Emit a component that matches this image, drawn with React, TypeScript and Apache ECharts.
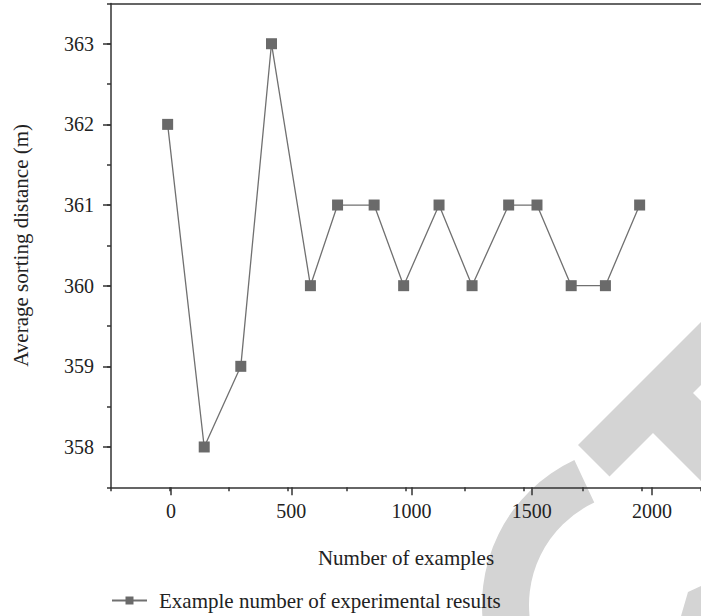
import React, { useEffect, useRef } from "react";
import * as echarts from "echarts";

const xValues = [-10, 145, 300, 430, 595, 710, 865, 990, 1140, 1280, 1435, 1555, 1700, 1845, 1990];
const yValues = [362, 358, 359, 363, 360, 361, 361, 360, 361, 360, 361, 361, 360, 360, 361];
const seriesName = "Example number of experimental results";
const xName = "Number of examples";
const yName = "Average sorting distance (m)";

const FONT = "'Liberation Serif', 'Times New Roman', serif";
const AXIS = "#333333";

export default function App() {
  const ref = useRef<HTMLDivElement>(null);
  useEffect(() => {
    if (!ref.current) return;
    const chart = echarts.init(ref.current, null, { renderer: "svg" });
    const data = xValues.map((x, i) => [x, yValues[i]]);
    chart.setOption({
      animation: false,
      backgroundColor: "#ffffff",
      textStyle: { fontFamily: FONT },
      graphic: [
        {
          type: "polygon",
          z: -10,
          shape: {
            points: [
              [578, 445], [850, 173], [900, 186], [693, 393], [900, 600],
              [820, 600], [653, 433], [609.5, 476.5],
            ],
          },
          style: { fill: "#d4d4d4" },
        },
        {
          type: "sector",
          z: -10,
          shape: { cx: 642, cy: 605, r0: 113, r: 160, startAngle: Math.PI / 2, endAngle: (245 * Math.PI) / 180, clockwise: true },
          style: { fill: "#d4d4d4" },
        },
        {
          type: "polygon",
          z: -10,
          shape: { points: [[688, 592], [701, 586], [701, 616], [681, 616]] },
          style: { fill: "#d4d4d4" },
        },
      ],
      grid: [
        { left: 111, right: -11, top: 3.4, bottom: 128.7, containLabel: false },
        { left: 171, right: 49, top: 43.7, bottom: 169, containLabel: false },
      ],
      legend: {
        left: 111,
        top: 590,
        padding: 0,
        itemWidth: 35,
        itemHeight: 10,
        data: [seriesName],
        textStyle: { fontFamily: FONT, fontSize: 21, color: "#222", padding: [0, 0, 0, 7] },
      },
      xAxis: [
        {
          type: "value",
          gridIndex: 0,
          position: "bottom",
          min: -250,
          max: 2250,
          interval: 250,
          name: xName,
          nameLocation: "middle",
          nameGap: 60,
          nameTextStyle: { fontFamily: FONT, fontSize: 21, color: "#222" },
          axisLine: { show: true, onZero: false, lineStyle: { color: AXIS, width: 1.5 } },
          axisTick: { show: true, inside: false, length: 4, lineStyle: { color: AXIS, width: 1.5 } },
          axisLabel: { show: false },
          splitLine: { show: false },
        },
        {
          type: "value",
          gridIndex: 1,
          position: "bottom",
          min: 0,
          max: 2000,
          interval: 500,
          offset: 40.3,
          axisLine: { show: false, onZero: false },
          axisTick: { show: true, inside: false, length: 8, lineStyle: { color: AXIS, width: 1.5 } },
          axisLabel: {
            show: true,
            margin: 14,
            fontFamily: FONT,
            fontSize: 20,
            color: "#222",
            formatter: (v: number) => String(v),
          },
          splitLine: { show: false },
        },
        {
          type: "value",
          gridIndex: 0,
          position: "top",
          min: -250,
          max: 2250,
          axisLine: { show: true, onZero: false, lineStyle: { color: AXIS, width: 1.5 } },
          axisTick: { show: false },
          axisLabel: { show: false },
          splitLine: { show: false },
        },
      ],
      yAxis: [
        {
          type: "value",
          gridIndex: 0,
          min: 357.5,
          max: 363.5,
          interval: 0.5,
          name: yName,
          nameLocation: "middle",
          nameGap: 80,
          nameTextStyle: { fontFamily: FONT, fontSize: 21, color: "#222" },
          axisLine: { show: true, onZero: false, lineStyle: { color: AXIS, width: 1.5 } },
          axisTick: { show: true, inside: false, length: 4, lineStyle: { color: AXIS, width: 1.5 } },
          axisLabel: { show: false },
          splitLine: { show: false },
        },
        {
          type: "value",
          gridIndex: 1,
          min: 358,
          max: 363,
          interval: 1,
          offset: 60,
          axisLine: { show: false, onZero: false },
          axisTick: { show: true, inside: false, length: 8, lineStyle: { color: AXIS, width: 1.5 } },
          axisLabel: {
            show: true,
            margin: 17,
            fontFamily: FONT,
            fontSize: 20,
            color: "#222",
            formatter: (v: number) => String(v),
          },
          splitLine: { show: false },
        },
      ],
      series: [
        {
          name: seriesName,
          type: "line",
          xAxisIndex: 0,
          yAxisIndex: 0,
          data,
          clip: false,
          symbol: "rect",
          symbolSize: 11,
          itemStyle: { color: "#6a6a6a" },
          lineStyle: { color: "#707070", width: 1.3 },
        },
      ],
    });
    return () => chart.dispose();
  }, []);
  return <div ref={ref} style={{ position: "fixed", left: 0, top: 0, width: 701, height: 616 }} />;
}
